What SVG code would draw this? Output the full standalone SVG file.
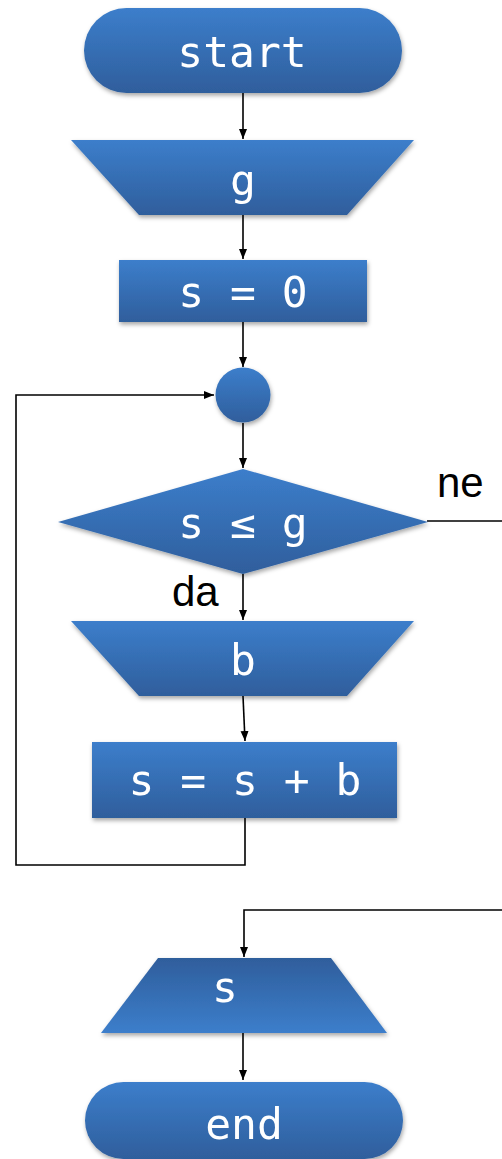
<svg xmlns="http://www.w3.org/2000/svg" width="502" height="1159" viewBox="0 0 502 1159">
<style>
.n{filter:url(#sh)}
.f{fill:url(#gr)}
.fr{fill:url(#grr)}
.t{font-family:"DejaVu Sans Mono","Liberation Mono",monospace;font-size:43px;fill:#fff;text-anchor:middle}
.l{font-family:"Liberation Sans",Arial,sans-serif;font-size:42px;fill:#000}
.c{fill:none;stroke:#000;stroke-width:1.6}
</style>
<defs>
<linearGradient id="gr" x1="0" y1="0" x2="0" y2="1">
<stop offset="0" stop-color="#3c7ecb"/>
<stop offset="1" stop-color="#2f5e9c"/>
</linearGradient>
<linearGradient id="grr" x1="0" y1="0" x2="0" y2="1">
<stop offset="0" stop-color="#2f5e9c"/>
<stop offset="1" stop-color="#3c7ecb"/>
</linearGradient>
<filter id="sh" x="-10%" y="-10%" width="120%" height="130%">
<feDropShadow dx="1" dy="2.5" stdDeviation="2" flood-color="#000" flood-opacity="0.35"/>
</filter>
<marker id="ar" markerWidth="12" markerHeight="10" refX="10" refY="5" orient="auto" markerUnits="userSpaceOnUse">
<path d="M0,1 L10,5 L0,9 Z" fill="#000"/>
</marker>
</defs>
<g id="connectors">
<line class="c" x1="243" y1="93" x2="243" y2="139" marker-end="url(#ar)"/>
<line class="c" x1="243" y1="215" x2="243" y2="259" marker-end="url(#ar)"/>
<line class="c" x1="243" y1="322" x2="243" y2="367" marker-end="url(#ar)"/>
<line class="c" x1="243" y1="423" x2="243" y2="468" marker-end="url(#ar)"/>
<line class="c" x1="243" y1="574" x2="243" y2="620" marker-end="url(#ar)"/>
<line class="c" x1="243" y1="696" x2="245" y2="741" marker-end="url(#ar)"/>
<polyline class="c" points="245,818 245,865 16,865 16,395 214,395" marker-end="url(#ar)"/>
<line class="c" x1="427" y1="521" x2="502" y2="521"/>
<polyline class="c" points="502,910 244,910 244,957" marker-end="url(#ar)"/>
<line class="c" x1="243" y1="1033" x2="243" y2="1080" marker-end="url(#ar)"/>
<text class="l" x="437" y="497">ne</text>
<text class="l" x="172" y="606">da</text>
</g>
<g id="start" class="n">
<rect class="f" x="84" y="8" width="318" height="85" rx="42.5"/>
<text class="t" x="242" y="67">start</text>
</g>
<g id="input-g" class="n">
<polygon class="f" points="71,140 414,140 347,215 139,215"/>
<text class="t" x="243" y="195">g</text>
</g>
<g id="init-s" class="n">
<rect class="f" x="119" y="260" width="248" height="62"/>
<text class="t" x="243" y="307">s = 0</text>
</g>
<g id="join" class="n">
<circle class="f" cx="243" cy="395" r="27.5"/>
</g>
<g id="cond" class="n">
<polygon class="f" points="243,469 428,522 243,574 58,522"/>
<text class="t" x="243" y="538">s ≤ g</text>
</g>
<g id="input-b" class="n">
<polygon class="f" points="71,621 414,621 347,696 139,696"/>
<text class="t" x="243" y="675">b</text>
</g>
<g id="update-s" class="n">
<rect class="f" x="92" y="742" width="305" height="76"/>
<text class="t" x="245" y="795">s = s + b</text>
</g>
<g id="output-s" class="n">
<polygon class="fr" points="158,958 331,958 387,1033 101,1033"/>
<text class="t" x="225" y="1002">s</text>
</g>
<g id="end" class="n">
<rect class="f" x="85" y="1082" width="318" height="77" rx="38.5"/>
<text class="t" x="244" y="1139">end</text>
</g>
</svg>
